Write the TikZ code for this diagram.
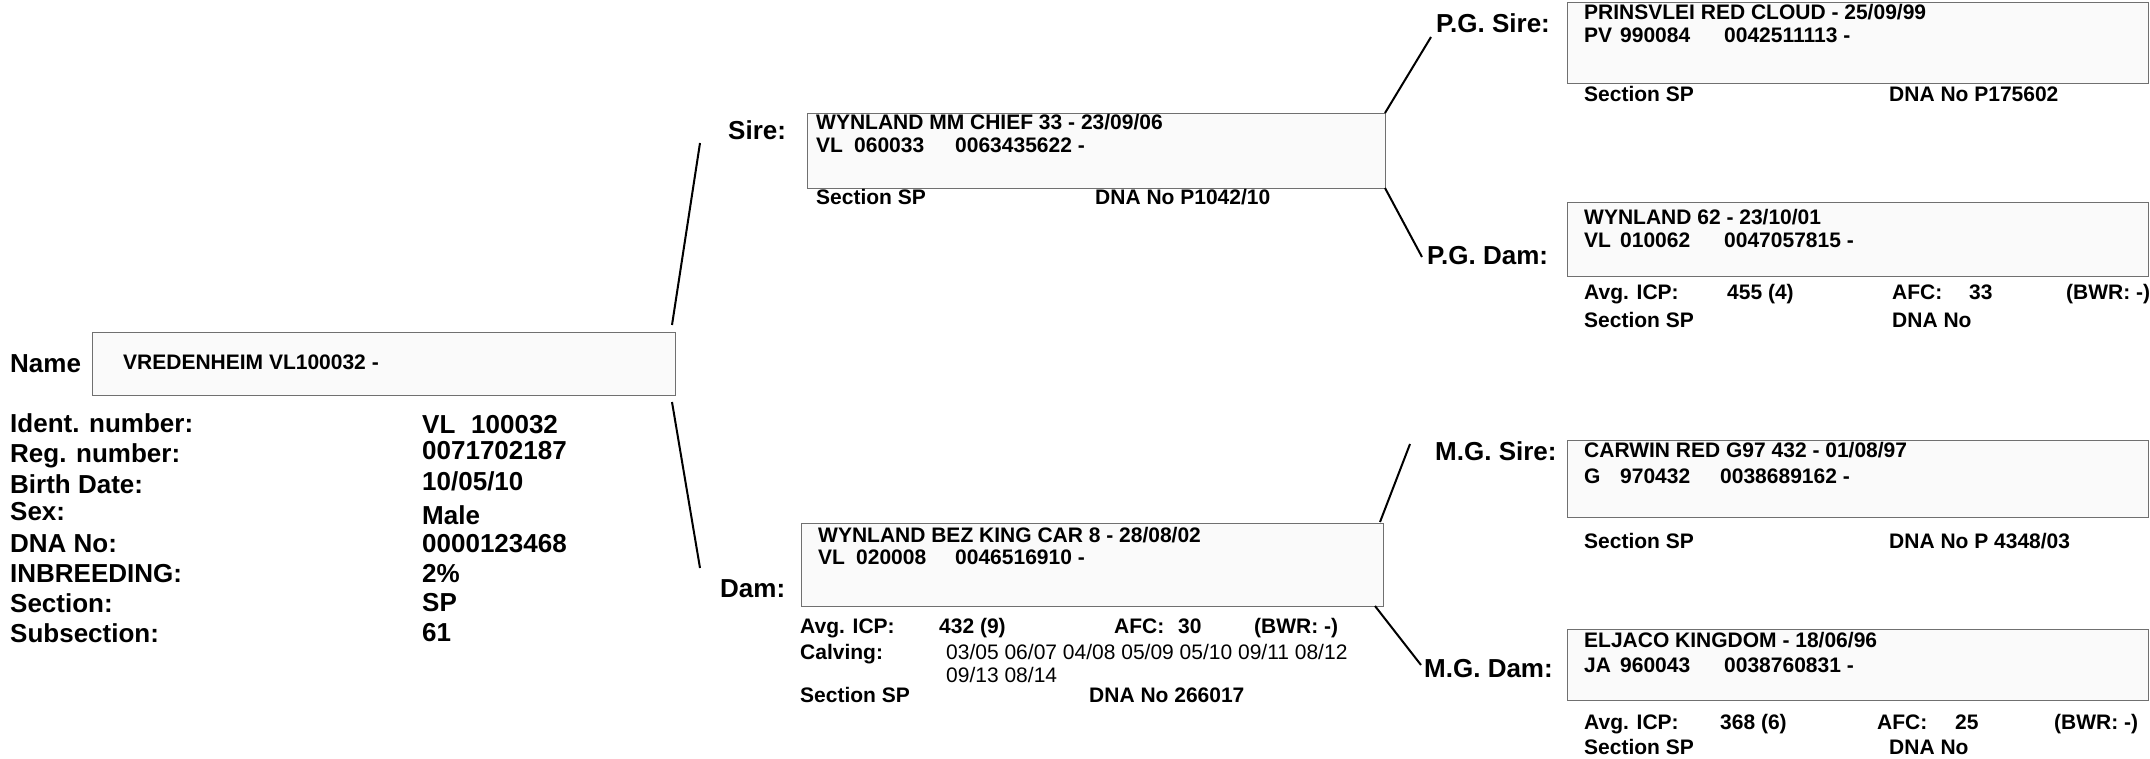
\documentclass[tikz,border=0pt]{standalone}
\usepackage{fontspec}
\setmainfont{Liberation Sans}
\definecolor{boxfill}{HTML}{FAFAFA}
\definecolor{boxline}{HTML}{707070}
\tikzset{
  lab/.style={anchor=base west, inner sep=0pt, font=\fontsize{26}{30}\selectfont\bfseries},
  txt/.style={anchor=base west, inner sep=0pt, font=\fontsize{21}{25}\selectfont\bfseries},
  reg/.style={anchor=base west, inner sep=0pt, font=\fontsize{21}{25}\selectfont},
  pbox/.style={draw=boxline, fill=boxfill, line width=1.4pt, anchor=north west, inner sep=0pt},
  link/.style={line width=2pt, black},
}
\begin{document}
\begin{tikzpicture}[x=1pt, y=-1pt]
\useasboundingbox (0,0) rectangle (2150,759);
% ---------- boxes ----------
\node[pbox, minimum width=583pt, minimum height=63pt] (main) at (92,332) {};
\node[pbox, minimum width=578pt, minimum height=75pt] (sire) at (807,113) {};
\node[pbox, minimum width=582pt, minimum height=83pt] (dam) at (801,523) {};
\node[pbox, minimum width=581pt, minimum height=81pt] (pgs) at (1567,2) {};
\node[pbox, minimum width=581pt, minimum height=74pt] (pgd) at (1567,202) {};
\node[pbox, minimum width=581pt, minimum height=77pt] (mgs) at (1567,440) {};
\node[pbox, minimum width=581pt, minimum height=71pt] (mgd) at (1567,629) {};
% ---------- connectors ----------
\coordinate (m1) at (672,325); \coordinate (s0) at (700,143);
\coordinate (m2) at (672,402); \coordinate (d0) at (700,568);
\coordinate (s1) at (1385,113); \coordinate (pgs0) at (1431,37);
\coordinate (s2) at (1385,188); \coordinate (pgd0) at (1422,257);
\coordinate (d1) at (1380,522); \coordinate (mgs0) at (1410,444);
\coordinate (d2) at (1375,606); \coordinate (mgd0) at (1421,665);
\draw[link] (m1) -- (s0);
\draw[link] (m2) -- (d0);
\draw[link] (s1) -- (pgs0);
\draw[link] (s2) -- (pgd0);
\draw[link] (d1) -- (mgs0);
\draw[link] (d2) -- (mgd0);
% ---------- left panel ----------
\node[lab] (lname) at (10,372) {Name};
\node[txt] (tname) at (123,369) {VREDENHEIM VL100032 -};
\node[lab] (l1) at (10,432) {Ident. number:};
\node[lab] (l2) at (10,462) {Reg. number:};
\node[lab] (l3) at (10,493) {Birth Date:};
\node[lab] (l4) at (10,520) {Sex:};
\node[lab] (l5) at (10,552) {DNA No:};
\node[lab] (l6) at (10,582) {INBREEDING:};
\node[lab] (l7) at (10,612) {Section:};
\node[lab] (l8) at (10,642) {Subsection:};
\node[lab] (v1a) at (422,433) {VL};
\node[lab] (v1b) at (471,433) {100032};
\node[lab] (v2) at (422,459) {0071702187};
\node[lab] (v3) at (422,490) {10/05/10};
\node[lab] (v4) at (422,524) {Male};
\node[lab] (v5) at (422,552) {0000123468};
\node[lab] (v6) at (422,582) {2\%};
\node[lab] (v7) at (422,611) {SP};
\node[lab] (v8) at (422,641) {61};
% ---------- sire ----------
\node[lab] (lsire) at (728,140) {Sire:};
\node[txt] (s_n) at (816,130) {WYNLAND MM CHIEF 33 - 23/09/06};
\node[txt] (s_a) at (816,153) {VL};
\node[txt] (s_b) at (854,153) {060033};
\node[txt] (s_c) at (955,153) {0063435622 -};
\node[txt] (s_s) at (816,205) {Section SP};
\node[txt] (s_d) at (1095,205) {DNA No P1042/10};
% ---------- dam ----------
\node[lab] (ldam) at (720,597) {Dam:};
\node[txt] (d_n) at (818,542) {WYNLAND BEZ KING CAR 8 - 28/08/02};
\node[txt] (d_a) at (818,564) {VL};
\node[txt] (d_b) at (856,564) {020008};
\node[txt] (d_c) at (955,564) {0046516910 -};
\node[txt] (d_i) at (800,633) {Avg. ICP:};
\node[txt] (d_iv) at (939,633) {432 (9)};
\node[txt] (d_f) at (1114,633) {AFC:};
\node[txt] (d_fv) at (1178,633) {30};
\node[txt] (d_w) at (1254,633) {(BWR: -)};
\node[txt] (d_cl) at (800,659) {Calving:};
\node[reg] (d_c1) at (946,659) {03/05 06/07 04/08 05/09 05/10 09/11 08/12};
\node[reg] (d_c2) at (946,682) {09/13 08/14};
\node[txt] (d_s) at (800,702) {Section SP};
\node[txt] (d_d) at (1089,702) {DNA No 266017};
% ---------- P.G. sire ----------
\node[lab] (lpgs) at (1436,33) {P.G. Sire:};
\node[txt] (pgs_n) at (1584,20) {PRINSVLEI RED CLOUD - 25/09/99};
\node[txt] (pgs_a) at (1584,43) {PV};
\node[txt] (pgs_b) at (1620,43) {990084};
\node[txt] (pgs_c) at (1724,43) {0042511113 -};
\node[txt] (pgs_s) at (1584,102) {Section SP};
\node[txt] (pgs_d) at (1889,102) {DNA No P175602};
% ---------- P.G. dam ----------
\node[lab] (lpgd) at (1427,265) {P.G. Dam:};
\node[txt] (pgd_n) at (1584,225) {WYNLAND 62 - 23/10/01};
\node[txt] (pgd_a) at (1584,248) {VL};
\node[txt] (pgd_b) at (1620,248) {010062};
\node[txt] (pgd_c) at (1724,248) {0047057815 -};
\node[txt] (pgd_i) at (1584,300) {Avg. ICP:};
\node[txt] (pgd_iv) at (1727,300) {455 (4)};
\node[txt] (pgd_f) at (1892,300) {AFC:};
\node[txt] (pgd_fv) at (1969,300) {33};
\node[txt] (pgd_w) at (2066,300) {(BWR: -)};
\node[txt] (pgd_s) at (1584,327) {Section SP};
\node[txt] (pgd_d) at (1892,327) {DNA No};
% ---------- M.G. sire ----------
\node[lab] (lmgs) at (1435,460) {M.G. Sire:};
\node[txt] (mgs_n) at (1584,457) {CARWIN RED G97 432 - 01/08/97};
\node[txt] (mgs_a) at (1584,483) {G};
\node[txt] (mgs_b) at (1620,483) {970432};
\node[txt] (mgs_c) at (1720,483) {0038689162 -};
\node[txt] (mgs_s) at (1584,548) {Section SP};
\node[txt] (mgs_d) at (1889,548) {DNA No P 4348/03};
% ---------- M.G. dam ----------
\node[lab] (lmgd) at (1424,677) {M.G. Dam:};
\node[txt] (mgd_n) at (1584,647) {ELJACO KINGDOM - 18/06/96};
\node[txt] (mgd_a) at (1584,672) {JA};
\node[txt] (mgd_b) at (1620,672) {960043};
\node[txt] (mgd_c) at (1724,672) {0038760831 -};
\node[txt] (mgd_i) at (1584,729) {Avg. ICP:};
\node[txt] (mgd_iv) at (1720,729) {368 (6)};
\node[txt] (mgd_f) at (1877,729) {AFC:};
\node[txt] (mgd_fv) at (1955,729) {25};
\node[txt] (mgd_w) at (2054,729) {(BWR: -)};
\node[txt] (mgd_s) at (1584,754) {Section SP};
\node[txt] (mgd_d) at (1889,754) {DNA No};
\end{tikzpicture}
\end{document}
